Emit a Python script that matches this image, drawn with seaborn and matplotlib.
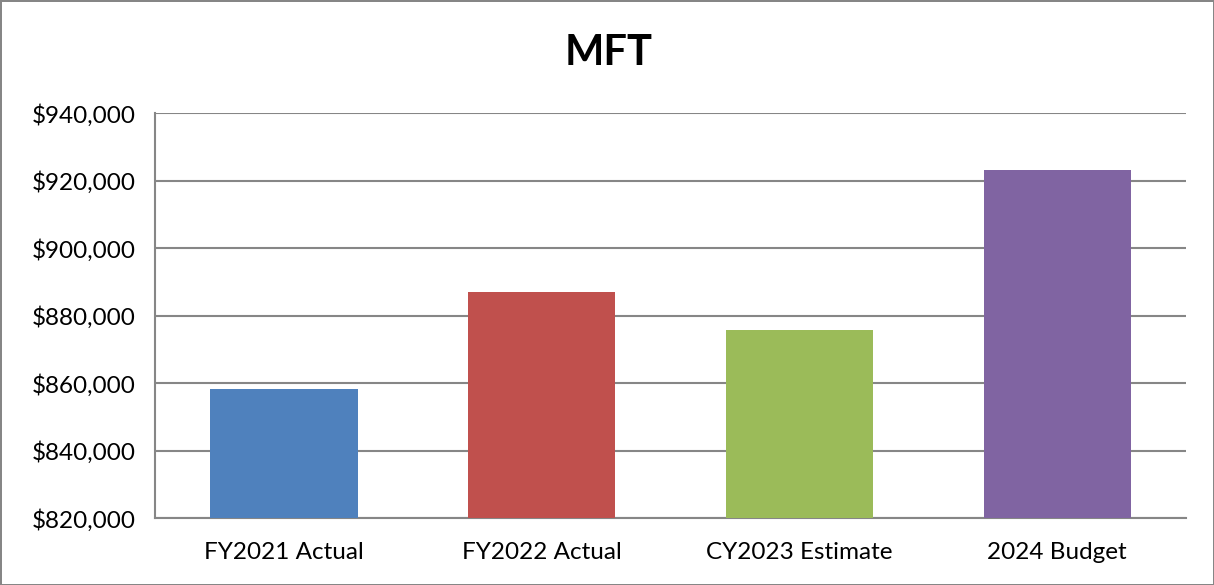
import matplotlib
matplotlib.use("Agg")
import matplotlib.pyplot as plt
import matplotlib.ticker as mticker
import seaborn as sns
import pandas as pd

categories = ["FY2021 Actual", "FY2022 Actual", "CY2023 Estimate", "2024 Budget"]
values = [858300, 887000, 875800, 923100]
colors = ["#4F81BD", "#C0504D", "#9BBB59", "#8064A2"]
y_ticks = [820000, 840000, 860000, 880000, 900000, 920000, 940000]

sns.set_theme(style="white")
plt.rcParams["font.family"] = ["Lato", "DejaVu Sans"]

df = pd.DataFrame({"category": categories, "value": values})

fig = plt.figure(figsize=(12.14, 5.85), dpi=100)
fig.patch.set_facecolor("white")
fig.patch.set_edgecolor("#868686")
fig.patch.set_linewidth(2)
ax = fig.add_axes([0.1277, 0.1145, 0.8493, 0.6923])

sns.barplot(data=df, x="category", y="value", hue="category",
            palette=colors, order=categories, hue_order=categories,
            width=0.571, saturation=1, legend=False, ax=ax, zorder=3,
            linewidth=0)

ax.set_ylim(820000, 940000)
ax.set_yticks(y_ticks)
ax.yaxis.set_major_formatter(mticker.FuncFormatter(lambda v, p: f"${v:,.0f}"))
ax.grid(axis="y", color="#868686", linewidth=1.5, zorder=0)
ax.set_axisbelow(True)
for side in ["top", "right"]:
    ax.spines[side].set_visible(False)
for side in ["left", "bottom"]:
    ax.spines[side].set_color("#868686")
    ax.spines[side].set_linewidth(1.5)
ax.tick_params(axis="both", length=0, labelsize=17.5, colors="black")
ax.tick_params(axis="y", pad=14)
ax.tick_params(axis="x", pad=17)
ax.set_xlabel("")
ax.set_ylabel("")
fig.text(0.501, 0.91, "MFT", ha="center", va="center",
         fontsize=30, fontweight="bold", color="black")

fig.savefig("out.png", dpi=100, facecolor=fig.get_facecolor(),
            edgecolor=fig.get_edgecolor())
